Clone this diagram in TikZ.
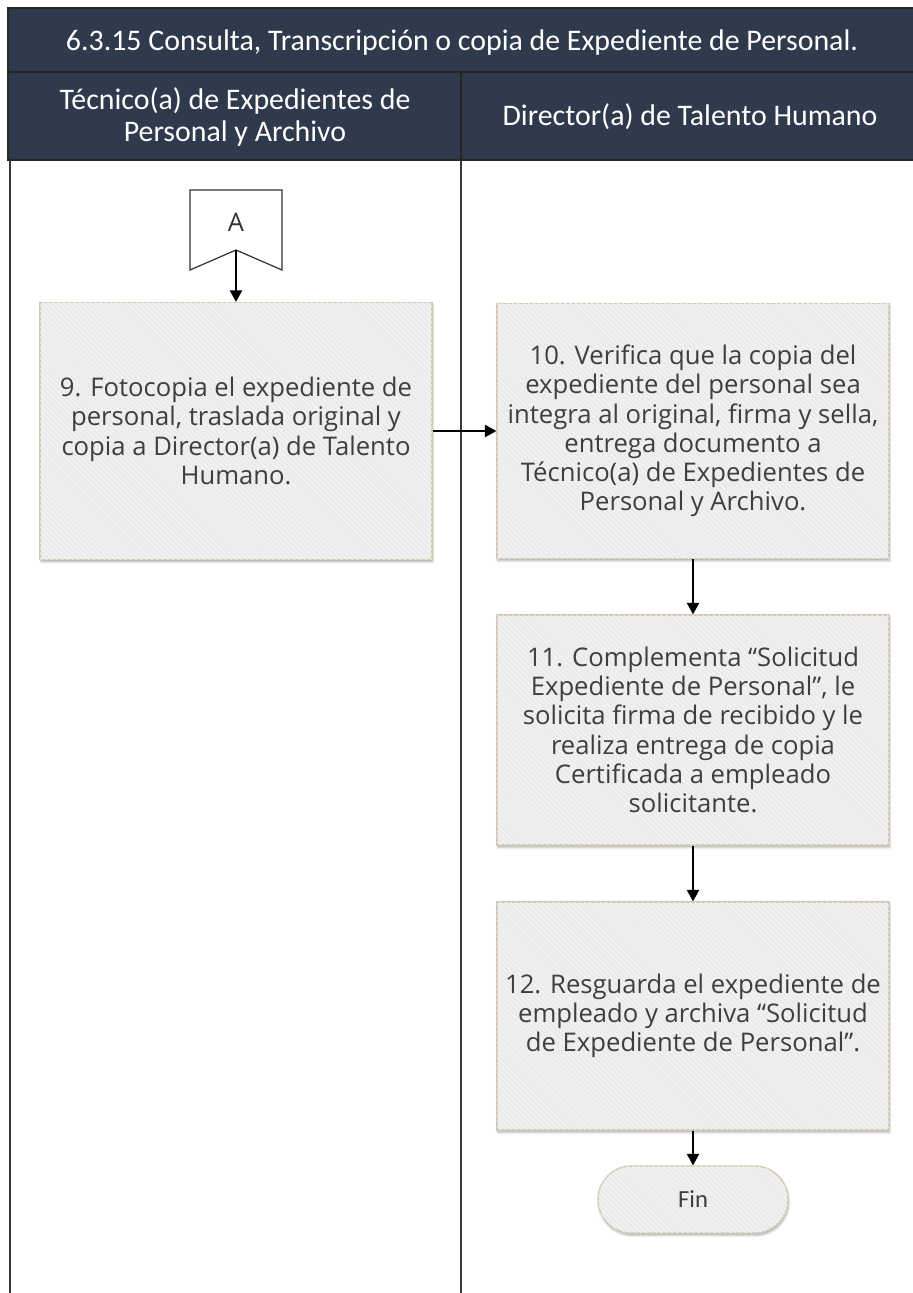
\documentclass[tikz,border=0pt]{standalone}
\usepackage{fontspec}
\setmainfont{Open Sans}
\newfontfamily\calfont{Carlito}
\usepackage{xcolor}
\usepackage{tikz}
\usetikzlibrary{arrows.meta,positioning,shadows.blur,patterns,shapes.misc}
\definecolor{hdrblue}{RGB}{47,59,77}
\definecolor{boxgray}{RGB}{235,235,235}
\definecolor{boxedge}{RGB}{208,202,182}
\definecolor{txtgray}{RGB}{62,62,62}
\definecolor{lanegray}{RGB}{55,55,55}
\tikzset{
  stepbox/.style={rectangle,draw=boxedge,line width=0.8pt,fill=boxgray,
    minimum width=7.84cm,inner sep=0pt,align=center,text=txtgray,
    font=\fontsize{14.6}{16.6}\selectfont,
    blur shadow={shadow xshift=0.5pt,shadow yshift=-1.4pt,shadow opacity=30,shadow blur radius=1.2pt},
    postaction={pattern=north west lines,pattern color=white!55!boxgray}},
  endbox/.style={stepbox,rounded rectangle},
  flowarr/.style={-{Triangle[length=6.5pt,width=7pt]},line width=0.7pt,draw=black},
  laneline/.style={line width=1.1pt,draw=lanegray},
  hdrcell/.style={fill=hdrblue,draw=black!85,line width=0.9pt}
}

\begin{document}
\begin{tikzpicture}[
  x=0.02cm,y=-0.02cm,
  hdrtext/.style={text=white,font=\calfont\fontsize{17}{18.2}\selectfont,align=center},
  pagelink/.style={draw=black!80,line width=0.7pt,fill=white}
]
\useasboundingbox (0,0) rectangle (912,1293);

% encabezado
\draw[hdrcell] (8,8) rectangle (916,72);
\draw[hdrcell] (8,72) rectangle (461,160);
\draw[hdrcell] (461,72) rectangle (916,160);
\node[hdrtext] (titulo) at (462,43) {6.3.15 Consulta, Transcripción o copia de Expediente de Personal.};
\node[hdrtext] (laneTec) at (235,117) {Técnico(a) de Expedientes de\\Personal y Archivo};
\node[hdrtext] (laneDir) at (690,117) {Director(a) de Talento Humano};

% carriles
\draw[laneline] (10,160) -- (10,1293);
\draw[laneline] (461,160) -- (461,1293);

% conector de pagina A
\coordinate (aTL) at (190,190);
\coordinate (aTR) at (282,190);
\coordinate (aBR) at (282,270);
\coordinate (aBL) at (190,270);
\coordinate (aNotch) at (236,250);
\draw[pagelink] (aTL) -- (aTR) -- (aBR) -- (aNotch) -- (aBL) -- cycle;
\node[font=\fontsize{14.5}{16}\selectfont,text=black!80] (linkA) at (236,222) {A};

% actividades
\node[stepbox,minimum height=5.14cm] (p9) at (236,431)
  {9. Fotocopia el expediente de\\personal, traslada original y\\copia a Director(a) de Talento\\Humano.};
\node[stepbox,minimum height=5.1cm] (p10) at (693,431)
  {10. Verifica que la copia del\\expediente del personal sea\\integra al original, firma y sella,\\entrega documento a\\Técnico(a) de Expedientes de\\Personal y Archivo.};
\node[stepbox,minimum height=4.6cm] (p11) at (693,730)
  {11. Complementa “Solicitud\\Expediente de Personal”, le\\solicita firma de recibido y le\\realiza entrega de copia\\Certificada a empleado\\solicitante.};
\node[stepbox,minimum height=4.56cm] (p12) at (693,1016)
  {12. Resguarda el expediente de\\empleado y archiva “Solicitud\\de Expediente de Personal”.};
\node[endbox,minimum width=3.8cm,minimum height=1.34cm,font=\calfont\fontsize{14}{15}\selectfont] (fin) at (693,1199.5) {Fin};

% flechas
\draw[flowarr] (aNotch) -- (p9.north);
\draw[flowarr] (p9.east) -- (p10.west);
\foreach \a/\b in {p10/p11,p11/p12,p12/fin}{
  \draw[flowarr] (\a.south) -- (\b.north);
}
\end{tikzpicture}
\end{document}
